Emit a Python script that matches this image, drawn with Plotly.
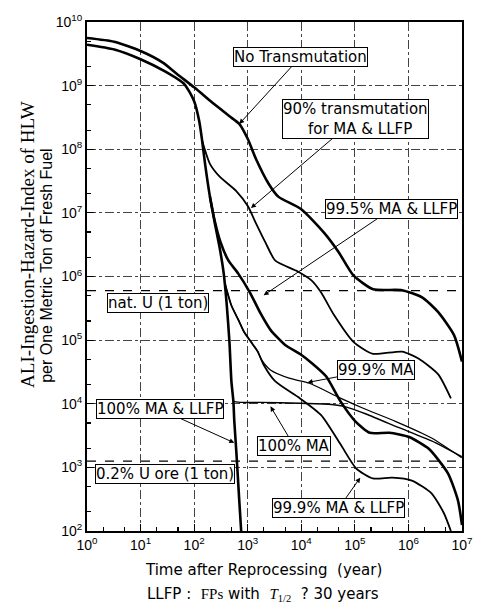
import numpy as np
import plotly.graph_objects as go

# ---------------- data ----------------
nt_t = [1, 3.2, 10, 26, 49, 100, 214, 457, 695, 1000, 1420, 2440, 3720, 1e4, 2.7e4, 5e4,
        9.4e4, 2.2e5, 7.6e5, 1.8e6, 3.6e6, 7.1e6, 1e7]
nt_v = [5.6e9, 4.9e9, 3.5e9, 2.3e9, 1.5e9, 9.4e8, 5.5e8, 3.3e8, 2.5e8, 1.46e8, 7.1e7, 2.9e7,
        1.8e7, 1.14e7, 4.8e6, 2.4e6, 1.04e6, 6.3e5, 6.1e5, 4.7e5, 2.75e5, 1.2e5, 4.6e4]

all_t = [1, 3.24, 10, 28.6, 66, 100, 124, 141, 160, 197, 243, 300, 355, 403, 456, 496, 540,
         562, 612, 695, 755]
all_v = [4.4e9, 3.7e9, 2.6e9, 1.67e9, 1.05e9, 5.7e8, 2.8e8, 1.36e8, 5.9e7, 1.8e7, 6.9e6, 2.8e6,
         1.15e6, 3.9e5, 9.4e4, 2.24e4, 1.09e4, 5.3e3, 1.8e3, 303, 100]

p90_t = [141, 197, 300, 612, 1010, 1420, 2150, 3280, 8600, 1.55e4, 2.35e4, 4.06e4, 9.4e4,
         2.17e5, 7.6e5, 1.56e6, 3.6e6, 6.2e6]
p90_v = [1.36e8, 5.9e7, 3.7e7, 2.2e7, 1.27e7, 6.9e6, 3.4e6, 1.77e6, 1.2e6, 8.7e5, 5.6e5, 2.5e5,
         9.4e4, 6.1e4, 6.6e4, 5.1e4, 2.9e4, 1.22e4]

p995_t = [197, 243, 313, 438, 666, 1100, 1750, 2660, 4990, 9350, 1.6e4, 2.9e4, 5.4e4, 1.02e5,
          1.9e5, 4.4e5, 1.03e6, 2.4e6, 5.5e6, 8.4e6, 1e7]
p995_v = [1.8e7, 7.4e6, 3.4e6, 1.77e6, 1.11e6, 5.6e5, 2.6e5, 1.45e5, 8.4e4, 6.1e4, 4.3e4, 2.7e4,
          1.09e4, 5.3e3, 3.5e3, 3.5e3, 3.0e3, 1.96e3, 800, 303, 124]

p999l_t = [370, 496, 666, 857, 1150, 1540, 1980, 3280, 9350, 2.35e4, 5.4e4, 1.06e5, 2.17e5,
           5.0e5, 1.16e6, 2.7e6, 4.6e6, 6.2e6]
p999l_v = [8.1e5, 3.5e5, 2.1e5, 1.34e5, 9.4e4, 6.6e4, 4.1e4, 2.24e4, 1.22e4, 6.6e3, 2.3e3, 960,
           670, 690, 620, 390, 190, 100]

p999_t = [370, 496, 666, 857, 1150, 1540, 1820, 2660, 6150, 1.42e4, 5.0e4, 1.43e5, 5.7e5,
          2.7e6, 9.9e6]
p999_v = [8.1e5, 3.5e5, 2.1e5, 1.34e5, 9.4e4, 6.6e4, 4.9e4, 3.4e4, 2.5e4, 2.1e4, 1.26e4, 8.5e3,
          5.3e3, 2.9e3, 1.42e3]

p100_t = [540, 755, 1750, 9350, 3.3e4, 6.2e4, 1.62e5, 6.7e5, 2.7e6, 9.9e6]
p100_v = [1.09e4, 1.05e4, 1.05e4, 1.02e4, 9.8e3, 9.1e3, 6.9e3, 4.2e3, 2.6e3, 1.47e3]

ref_t = [1, 1e7]
natU_v = [6.0e5, 6.0e5]
ore_v = [1.25e3, 1.25e3]

x_exp = list(range(0, 8))
y_exp = list(range(2, 11))

SANS = "Liberation Sans, Arial, sans-serif"
WIDE = "DejaVu Sans, Verdana, sans-serif"
SERIF = "Liberation Serif, Times New Roman, serif"

fig = go.Figure()

def line(t, v, w, dash="solid", shape="spline"):
    fig.add_trace(go.Scatter(x=t, y=v, mode="lines", showlegend=False,
                             line=dict(color="black", width=w, dash=dash,
                                       shape=shape, smoothing=0.6),
                             hoverinfo="skip"))

line(ref_t, natU_v, 1.2, "dash", "linear")
line(ref_t, ore_v, 1.2, "dash", "linear")
line(nt_t, nt_v, 2.6)
line(p90_t, p90_v, 1.8)
line(p995_t, p995_v, 2.6)
line(p999l_t, p999l_v, 1.8)
line(p999_t, p999_v, 1.3)
line(p100_t, p100_v, 1.4)
line(all_t, all_v, 2.6)

L = np.log10

def label(text, cx, cy, hx=None, hy=None):
    d = dict(text=text, font=dict(family=WIDE, size=15, color="black"),
             bordercolor="black", borderwidth=1, borderpad=0, bgcolor="white",
             xref="x", yref="y")
    if hx is None:
        d.update(x=L(cx), y=L(cy), showarrow=False)
    else:
        d.update(x=L(hx), y=L(hy), ax=L(cx), ay=L(cy), axref="x", ayref="y",
                 showarrow=True, arrowhead=2, arrowsize=1, arrowwidth=1,
                 arrowcolor="black")
    fig.add_annotation(**d)

label("No Transmutation", 9.75e3, 2.85e9, 695, 2.5e8)
label("90% transmutation<br>  for MA & LLFP", 1.02e5, 2.99e8, 1150, 1.19e7)
label("99.5% MA & LLFP", 4.8e5, 1.14e7, 1980, 5.06e5)
label("99.9% MA", 2.47e5, 3.44e4, 1.31e4, 2.16e4)
label("100% MA", 7.3e3, 2.18e3, 2660, 9.1e3)
label("99.9% MA & LLFP", 5.0e4, 228, 1.26e5, 690)
label("100% MA & LLFP", 23, 8.2e3, 562, 2.43e3)
label("nat. U (1 ton)", 21, 3.8e5)
label("0.2% U ore (1 ton)", 28.6, 800)

# axis titles
fig.add_annotation(text="ALI-Ingestion-Hazard-Index of HLW", textangle=-90,
                   xref="paper", yref="paper", x=0, y=0.562, xshift=-59,
                   xanchor="center", yanchor="middle", showarrow=False,
                   font=dict(family=SERIF, size=19, color="black"))
fig.add_annotation(text="per One Metric Ton of Fresh Fuel", textangle=-90,
                   xref="paper", yref="paper", x=0, y=0.521, xshift=-40,
                   xanchor="center", yanchor="middle", showarrow=False,
                   font=dict(family=SANS, size=16, color="black"))
fig.add_annotation(text="Time after Reprocessing  (year)",
                   xref="paper", yref="paper", x=0.47, y=0, yshift=-39,
                   xanchor="center", yanchor="middle", showarrow=False,
                   font=dict(family=WIDE, size=15, color="black"))
fig.add_annotation(text="LLFP :  <span style=\"font-family:Liberation Serif\">FPs</span> with  "
                        "<span style=\"font-family:Liberation Serif\"><i>T</i><sub>1/2</sub></span>  ? 30 years",
                   xref="paper", yref="paper", x=0.47, y=0, yshift=-63,
                   xanchor="center", yanchor="middle", showarrow=False,
                   font=dict(family=WIDE, size=15, color="black"))

axis_common = dict(type="log", showline=True, linecolor="black", linewidth=2, mirror=True,
                   ticks="inside", ticklen=7, tickwidth=1.2, tickcolor="black",
                   showgrid=True, gridcolor="#444", gridwidth=1, griddash="dashdot",
                   zeroline=False, tickfont=dict(family=SANS, size=14, color="black"),
                   minor=dict(ticks="inside", ticklen=4, tickcolor="black", showgrid=False))

fig.update_xaxes(**axis_common, range=[0, 7],
                 tickvals=[10 ** e for e in x_exp],
                 ticktext=[f"10<sup>{e}</sup>" for e in x_exp])
fig.update_yaxes(**axis_common, range=[2, 10],
                 tickvals=[10 ** e for e in y_exp],
                 ticktext=[f"10<sup>{e}</sup>" for e in y_exp])

fig.update_layout(width=485, height=605, autosize=False,
                  margin=dict(l=87, r=14, t=17, b=74),
                  plot_bgcolor="white", paper_bgcolor="white", showlegend=False)

fig.write_html("out.html", config={"displayModeBar": False, "staticPlot": True},
               post_script="document.body.style.margin='0px';document.body.style.overflow='hidden';")
